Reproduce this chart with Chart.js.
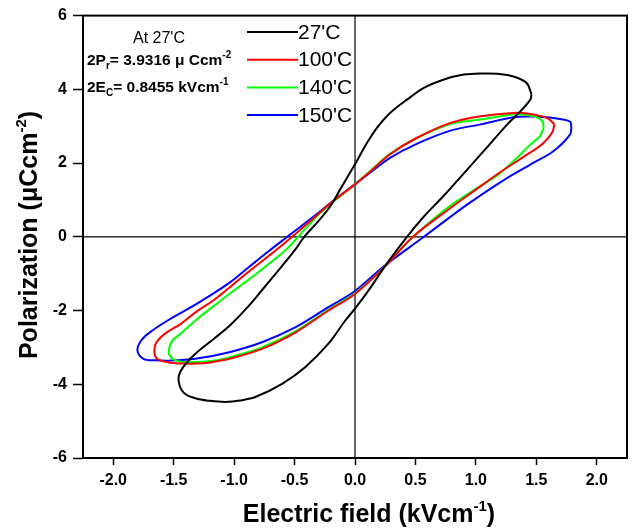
<!DOCTYPE html>
<html>
<head>
<meta charset="utf-8">
<script src="https://cdn.jsdelivr.net/npm/chart.js@4.4.1/dist/chart.umd.min.js"></script>
<style>
    html, body { margin: 0; padding: 0; background: #fff; }
    #wrap { width: 635px; height: 532px; }
</style>
</head>
<body>
<div id="wrap"><canvas id="peChart"></canvas></div>
<script>
const FONT = "'Liberation Sans', Arial, sans-serif";

const X_TICKS = [-2.0, -1.5, -1.0, -0.5, 0.0, 0.5, 1.0, 1.5, 2.0];
const Y_TICKS = [-6, -4, -2, 0, 2, 4, 6];

const LABELS = ["27'C", "100'C", "140'C", "150'C"];
const COLORS = ['#000000', '#ff0000', '#00ff00', '#0000ff'];

// each loop: from the +E tip along the upper branch to the -E tip, then back along the lower branch
const E27 = [1.46, 1.42, 1.31, 1.18, 1.06, 0.90, 0.73, 0.57, 0.43, 0.29, 0.18, 0.10, 0.00, -0.12, -0.20, -0.31, -0.42, -0.49, -0.63, -0.77, -0.90, -1.04, -1.18, -1.32, -1.42, -1.46,
             -1.42, -1.32, -1.20, -1.07, -0.95, -0.82, -0.60, -0.41, -0.22, -0.08, 0.00, 0.13, 0.26, 0.43, 0.57, 0.73, 0.93, 1.12, 1.26, 1.37, 1.45, 1.46];
const P27 = [3.86, 4.17, 4.35, 4.42, 4.43, 4.40, 4.26, 4.04, 3.72, 3.36, 2.95, 2.55, 1.97, 1.30, 0.85, 0.40, 0.00, -0.33, -0.90, -1.45, -1.95, -2.42, -2.80, -3.17, -3.53, -3.84,
             -4.22, -4.38, -4.45, -4.48, -4.44, -4.34, -3.98, -3.53, -2.90, -2.27, -1.95, -1.37, -0.74, 0.00, 0.55, 1.10, 1.83, 2.53, 3.05, 3.41, 3.72, 3.86];

const E100 = [1.65, 1.59, 1.45, 1.31, 1.04, 0.79, 0.51, 0.29, 0.13, 0.00, -0.18, -0.31, -0.52, -0.66, -0.87, -1.04, -1.17, -1.32, -1.44, -1.56, -1.64, -1.66,
              -1.64, -1.55, -1.42, -1.30, -1.20, -1.04, -0.77, -0.49, -0.22, 0.00, 0.24, 0.48, 0.79, 1.00, 1.20, 1.40, 1.55, 1.63, 1.65];
const P100 = [3.05, 3.22, 3.33, 3.36, 3.27, 3.09, 2.68, 2.24, 1.78, 1.42, 0.97, 0.60, 0.00, -0.38, -0.92, -1.38, -1.72, -2.05, -2.36, -2.60, -2.85, -3.08,
              -3.30, -3.40, -3.44, -3.44, -3.41, -3.31, -3.04, -2.59, -2.00, -1.55, -0.83, 0.00, 0.78, 1.28, 1.75, 2.18, 2.52, 2.82, 3.05];

const E140 = [1.56, 1.55, 1.48, 1.31, 1.04, 0.79, 0.51, 0.29, 0.13, 0.00, -0.18, -0.31, -0.47, -0.58, -0.87, -1.04, -1.17, -1.32, -1.45, -1.51, -1.54,
              -1.51, -1.45, -1.39, -1.17, -1.04, -0.77, -0.49, -0.22, 0.00, 0.24, 0.48, 0.79, 1.00, 1.17, 1.31, 1.45, 1.53, 1.56];
const P140 = [2.95, 3.14, 3.27, 3.32, 3.18, 3.06, 2.68, 2.25, 1.80, 1.42, 0.95, 0.57, 0.00, -0.38, -1.14, -1.55, -1.88, -2.27, -2.65, -2.81, -3.13,
              -3.31, -3.38, -3.40, -3.36, -3.27, -3.00, -2.56, -1.98, -1.53, -0.83, 0.00, 0.85, 1.30, 1.65, 2.05, 2.50, 2.73, 2.95];

const E150 = [1.79, 1.78, 1.72, 1.59, 1.45, 1.31, 1.04, 0.79, 0.51, 0.29, 0.13, 0.00, -0.18, -0.31, -0.56, -0.71, -0.87, -1.04, -1.30, -1.55, -1.70, -1.77, -1.80,
              -1.75, -1.65, -1.55, -1.32, -1.04, -0.77, -0.49, -0.22, 0.00, 0.24, 0.57, 0.93, 1.26, 1.45, 1.64, 1.78, 1.79];
const P150 = [3.00, 3.12, 3.18, 3.24, 3.26, 3.24, 3.05, 2.88, 2.52, 2.14, 1.75, 1.43, 0.98, 0.63, 0.00, -0.38, -0.80, -1.25, -1.80, -2.27, -2.60, -2.82, -3.08,
              -3.31, -3.35, -3.36, -3.31, -3.13, -2.86, -2.45, -1.91, -1.47, -0.80, 0.00, 0.88, 1.60, 1.96, 2.32, 2.78, 3.00];

const LOOPS = [[E27, P27], [E100, P100], [E140, P140], [E150, P150]];

const toPoints = (xs, ys) => xs.map((x, i) => ({ x: x, y: ys[i] }));

// draw a run of text pieces: [text, size, weight, dy]
function drawRich(ctx, parts, x, y, align) {
    let total = 0;
    parts.forEach(p => {
        ctx.font = `${p[2]} ${p[1]}px ${FONT}`;
        total += ctx.measureText(p[0]).width;
    });
    let cx = align === 'center' ? x - total / 2 : x;
    ctx.textAlign = 'left';
    ctx.textBaseline = 'alphabetic';
    parts.forEach(p => {
        ctx.font = `${p[2]} ${p[1]}px ${FONT}`;
        ctx.fillText(p[0], cx, y + p[3]);
        cx += ctx.measureText(p[0]).width;
    });
}

const framePlugin = {
    id: 'frame',
    beforeDatasetsDraw(chart) {
        const { ctx, chartArea: a, scales } = chart;
        const x0 = scales.x.getPixelForValue(0);
        const y0 = scales.y.getPixelForValue(0);
        ctx.save();
        ctx.strokeStyle = '#000';
        ctx.lineWidth = 1.2;
        ctx.beginPath();
        ctx.moveTo(x0, a.top);
        ctx.lineTo(x0, a.bottom);
        ctx.moveTo(a.left, y0);
        ctx.lineTo(a.right, y0);
        ctx.stroke();
        ctx.restore();
    },
    afterDraw(chart) {
        const { ctx, chartArea: a } = chart;
        ctx.save();
        ctx.strokeStyle = '#000';
        ctx.lineWidth = 2;
        ctx.strokeRect(a.left, a.top, a.right - a.left, a.bottom - a.top);
        ctx.restore();
    }
};

const textPlugin = {
    id: 'texts',
    afterDraw(chart) {
        const ctx = chart.ctx;
        ctx.save();
        ctx.fillStyle = '#000';

        // legend
        chart.data.datasets.forEach((ds, i) => {
            const y = 32 + i * 27.7;
            ctx.strokeStyle = ds.borderColor;
            ctx.lineWidth = 2;
            ctx.beginPath();
            ctx.moveTo(247, y);
            ctx.lineTo(298, y);
            ctx.stroke();
            ctx.font = `21px ${FONT}`;
            ctx.textAlign = 'left';
            ctx.textBaseline = 'middle';
            ctx.fillText(ds.label, 298, y + 1);
        });

        // note
        drawRich(ctx, [["At 27'C", 16, 'normal', 0]], 133, 43);
        drawRich(ctx, [['2P', 15.5, 'bold', 0], ['r', 10, 'bold', 4], ['= 3.9316 μ Ccm', 15.5, 'bold', 0], ['-2', 10, 'bold', -7]], 87, 65);
        drawRich(ctx, [['2E', 15.5, 'bold', 0], ['C', 10, 'bold', 4], ['= 0.8455 kVcm', 15.5, 'bold', 0], ['-1', 10, 'bold', -7]], 87, 92);

        // axis titles
        drawRich(ctx, [['Electric field (kVcm', 25, 'bold', 0], ['-1', 15, 'bold', -11], [')', 25, 'bold', 0]], 369, 522, 'center');
        ctx.translate(37, 235);
        ctx.rotate(-Math.PI / 2);
        drawRich(ctx, [['Polarization (μCcm', 25, 'bold', 0], ['-2', 15, 'bold', -11], [')', 25, 'bold', 0]], 0, 0, 'center');
        ctx.restore();
    }
};

const tickFont = { family: FONT, size: 16, weight: 'bold' };

new Chart(document.getElementById('peChart'), {
    type: 'scatter',
    data: {
        datasets: LOOPS.map((l, i) => ({
            label: LABELS[i],
            data: toPoints(l[0], l[1]),
            showLine: true,
            borderColor: COLORS[i],
            borderWidth: 2,
            pointRadius: 0,
            tension: 0.35,
            fill: false
        }))
    },
    options: {
        responsive: true,
        maintainAspectRatio: false,
        animation: false,
        layout: { padding: { top: 14, right: 8, left: 0, bottom: 0 } },
        plugins: { legend: { display: false }, tooltip: { enabled: false } },
        scales: {
            x: {
                type: 'linear',
                min: -2.25,
                max: 2.25,
                afterBuildTicks: s => { s.ticks = X_TICKS.map(v => ({ value: v })); },
                afterFit: s => { s.height = 74; },
                ticks: { font: tickFont, color: '#000', padding: 6, callback: v => v.toFixed(1), maxRotation: 0 },
                grid: { drawOnChartArea: false, tickLength: 7, tickColor: '#000', tickWidth: 1.5 },
                border: { color: '#000', width: 2 }
            },
            y: {
                min: -6,
                max: 6,
                afterBuildTicks: s => { s.ticks = Y_TICKS.map(v => ({ value: v })); },
                afterFit: s => { s.width = 83; },
                ticks: { font: tickFont, color: '#000', padding: 6 },
                grid: { drawOnChartArea: false, tickLength: 10, tickColor: '#000', tickWidth: 1.5 },
                border: { color: '#000', width: 2 }
            }
        }
    },
    plugins: [framePlugin, textPlugin]
});
</script>
</body>
</html>
